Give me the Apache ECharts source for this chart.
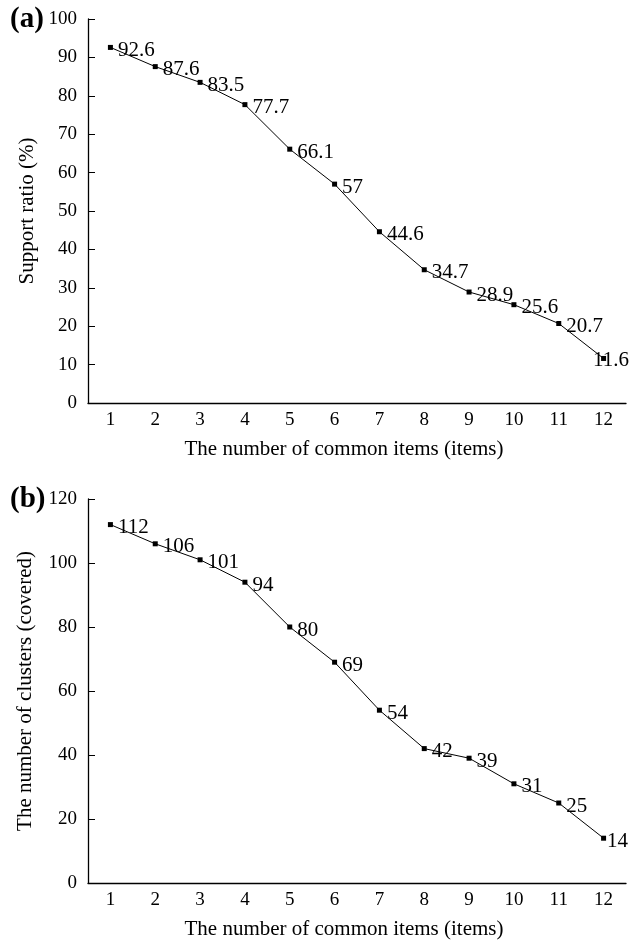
<!DOCTYPE html>
<html>
<head>
<meta charset="utf-8">
<script src="https://cdn.jsdelivr.net/npm/echarts@6/dist/echarts.min.js"></script>
<style>
html,body{margin:0;padding:0;background:#fff;}
#c{width:630px;height:942px;}
</style>
</head>
<body>
<div id="c"></div>
<script>
var categories = ['1','2','3','4','5','6','7','8','9','10','11','12'];
var supportRatio = [92.6, 87.6, 83.5, 77.7, 66.1, 57, 44.6, 34.7, 28.9, 25.6, 20.7, 11.6];
var clusters = [112, 106, 101, 94, 80, 69, 54, 42, 39, 31, 25, 14];
var xTitle = 'The number of common items (items)';
var yTitleA = 'Support ratio (%)';
var yTitleB = 'The number of clusters (covered)';

var FONT = '"Liberation Serif", "Times New Roman", serif';
var chart = echarts.init(document.getElementById('c'), null, {renderer:'canvas'});

function xAxisCfg(gi){
  return {
    gridIndex: gi, type: 'category', data: categories, boundaryGap: true,
    name: xTitle, nameLocation: 'middle', nameGap: 36,
    nameTextStyle: {fontFamily: FONT, fontSize: 21, color: '#000', padding: [0, 26, 0, 0]},
    axisLine: {lineStyle: {color: '#000', width: 1.3}},
    axisTick: {inside: true, length: 7, alignWithLabel: false, lineStyle: {color:'#000'}},
    axisLabel: {fontFamily: FONT, fontSize: 19, color: '#000', margin: 8},
    splitLine: {show: false}
  };
}
function yAxisCfg(gi, max, interval, name, gap){
  return {
    gridIndex: gi, type: 'value', min: 0, max: max, interval: interval,
    name: name, nameLocation: 'middle', nameGap: gap, nameRotate: 90,
    nameTextStyle: {fontFamily: FONT, fontSize: 21, color: '#000'},
    axisLine: {show: true, lineStyle: {color: '#000', width: 1.3}},
    axisTick: {show: true, inside: true, length: 7, lineStyle: {color:'#000'}},
    axisLabel: {fontFamily: FONT, fontSize: 19, color: '#000', margin: 11},
    splitLine: {show: false}
  };
}
function seriesCfg(gi, values, lastOffset){
  return {
    type: 'line', xAxisIndex: gi, yAxisIndex: gi,
    data: values.map(function(v, i){
      var item = {value: v};
      if (i === values.length - 1) item.label = {offset: lastOffset};
      return item;
    }),
    symbol: 'rect', symbolSize: 5, showAllSymbol: true,
    itemStyle: {color: '#000'},
    lineStyle: {color: '#000', width: 1},
    label: {show: true, position: 'right', distance: 4, offset: [1, 3],
      fontFamily: FONT, fontSize: 21, color: '#000'},
    animation: false
  };
}

chart.setOption({
  backgroundColor: '#fff',
  animation: false,
  grid: [
    {left: 88, top: 19, width: 538, height: 384},
    {left: 88, top: 499, width: 538, height: 384}
  ],
  xAxis: [xAxisCfg(0), xAxisCfg(1)],
  yAxis: [yAxisCfg(0, 100, 10, yTitleA, 47), yAxisCfg(1, 120, 20, yTitleB, 52)],
  series: [seriesCfg(0, supportRatio, [-17, 2]), seriesCfg(1, clusters, [-3, 3])],
  graphic: [
    {type: 'text', left: 10, top: 5, style: {text: '(a)', fontFamily: FONT, fontSize: 29, fontWeight: 'bold', fill: '#000'}},
    {type: 'text', left: 10, top: 485, style: {text: '(b)', fontFamily: FONT, fontSize: 29, fontWeight: 'bold', fill: '#000'}}
  ]
});
</script>
</body>
</html>
